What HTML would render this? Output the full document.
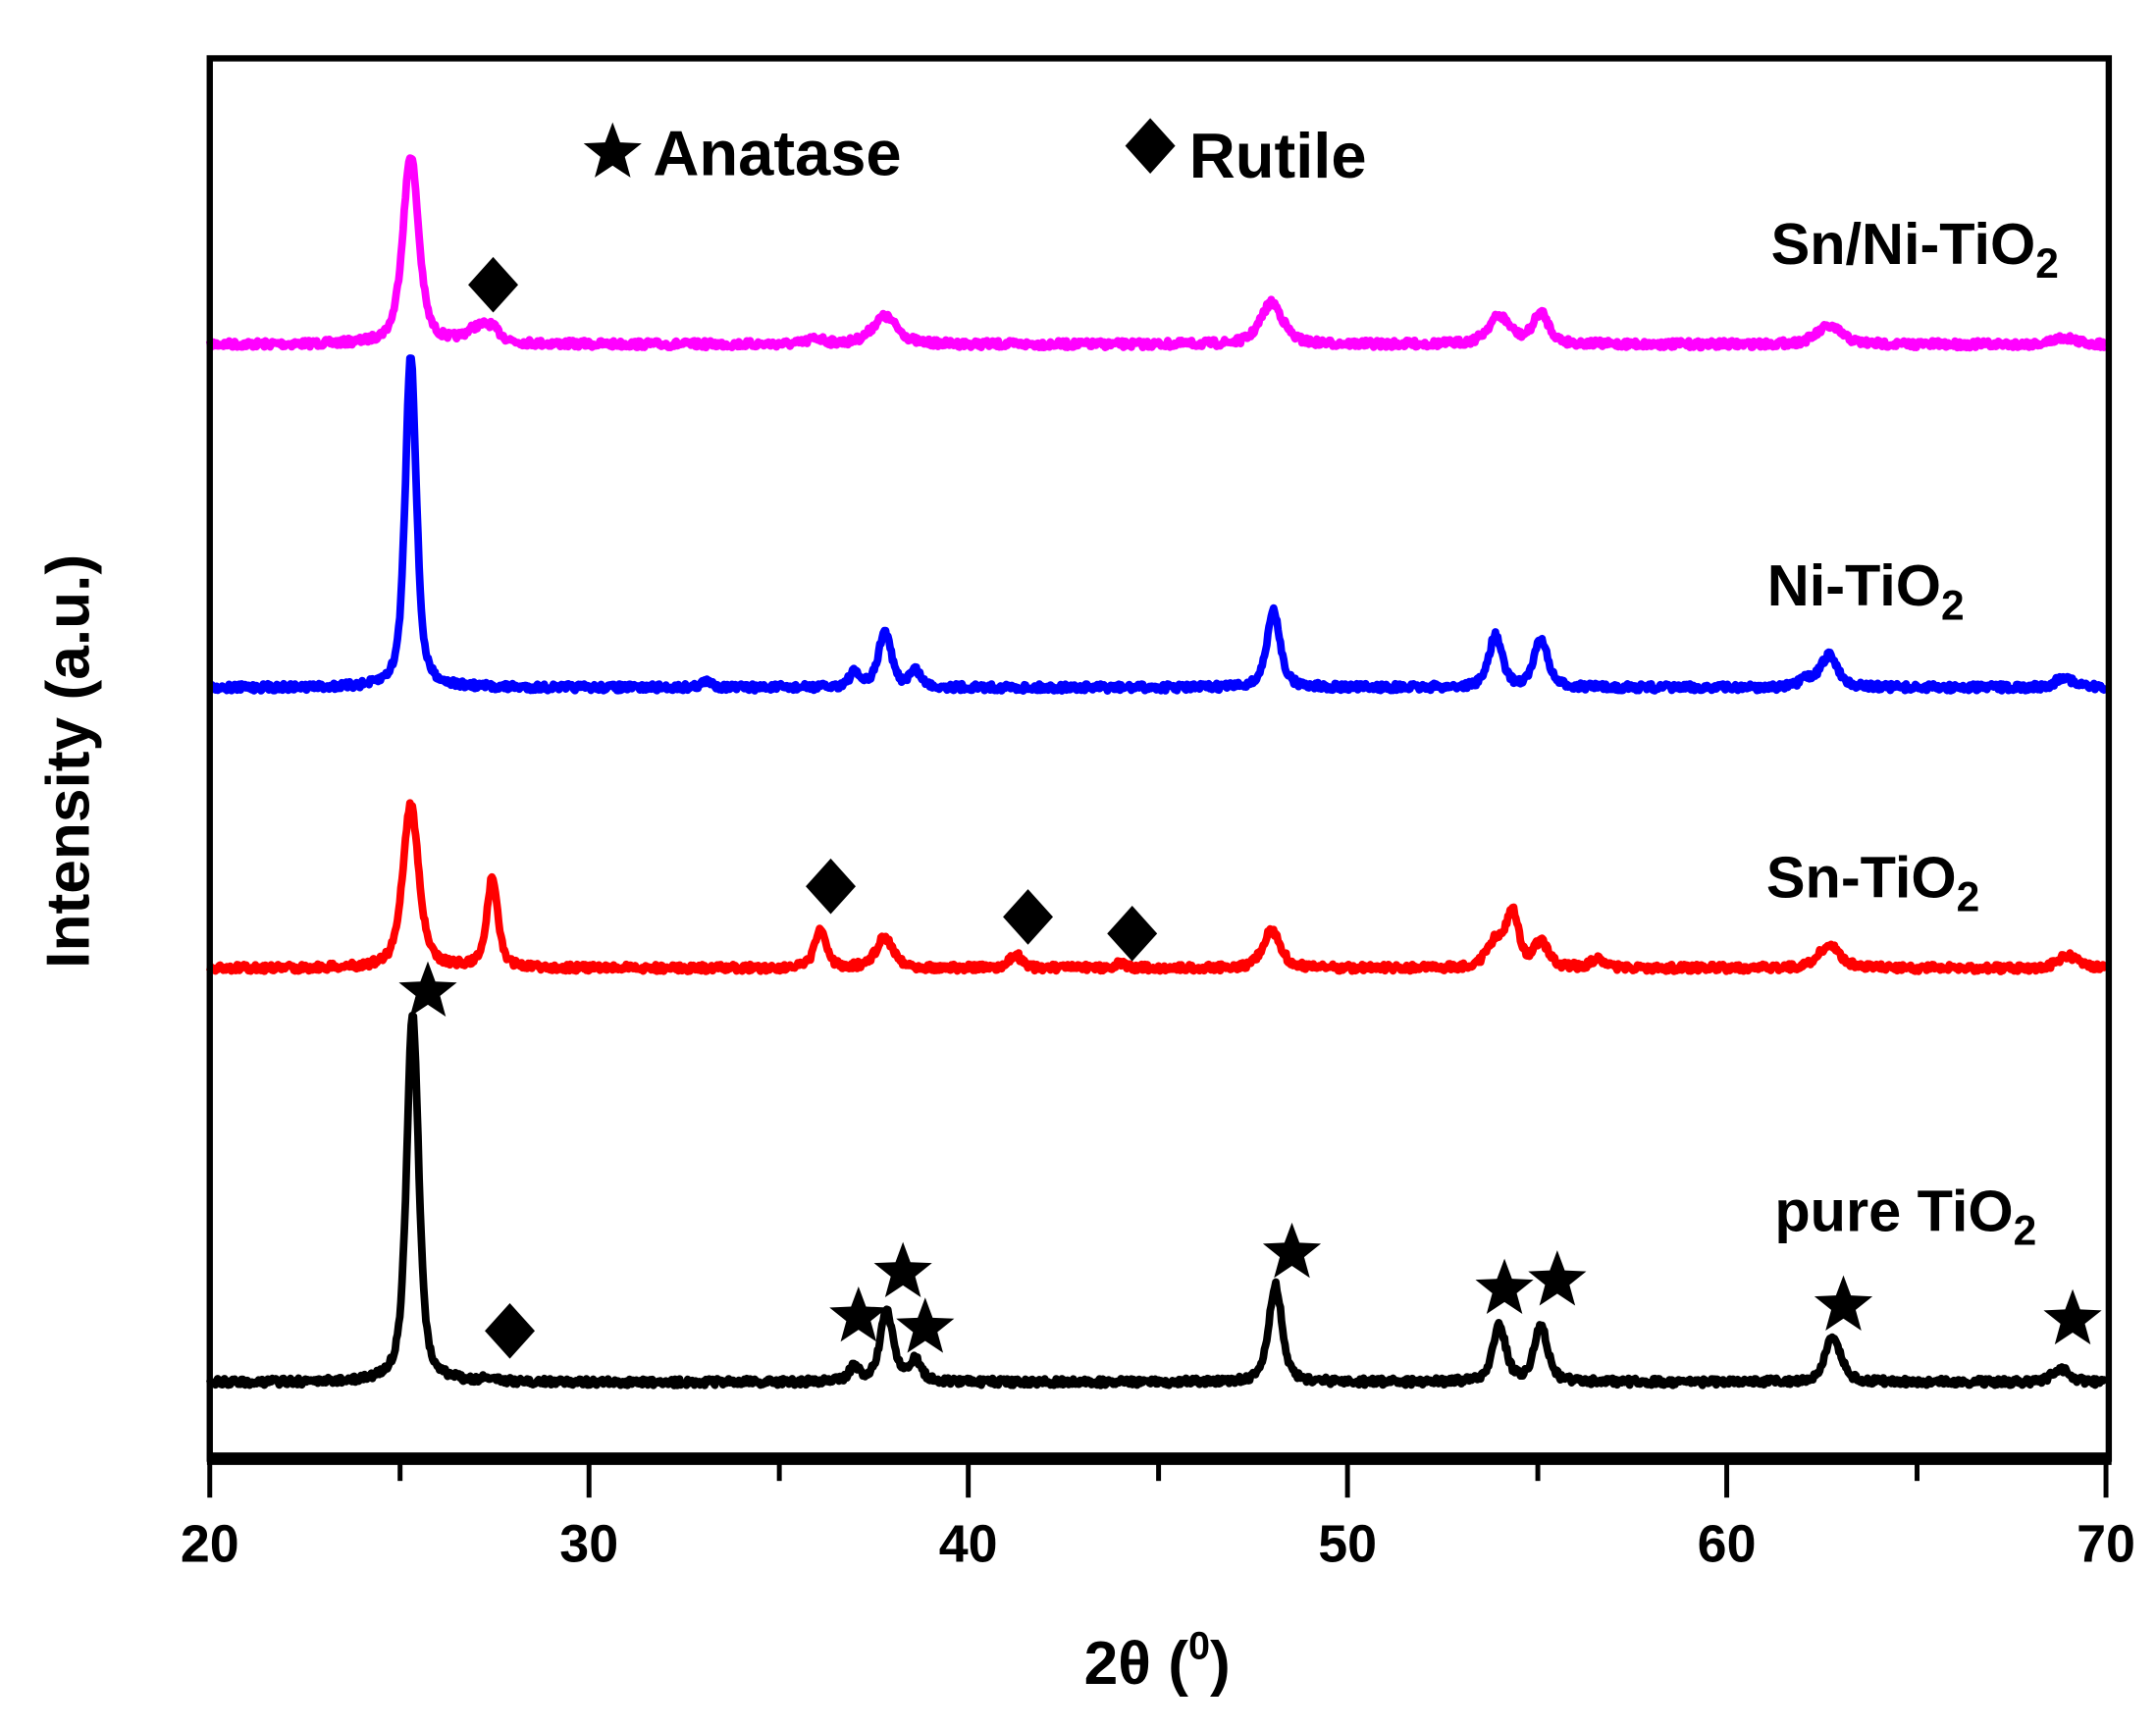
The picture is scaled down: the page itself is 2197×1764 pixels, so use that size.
<!DOCTYPE html>
<html><head><meta charset="utf-8"><style>
html,body{margin:0;padding:0;background:#fff;}
svg{display:block;}
text{font-family:"Liberation Sans",Arial,sans-serif;font-weight:bold;fill:#000;}
</style></head><body>
<svg id="s" width="2197" height="1764" viewBox="0 0 1552 1246" preserveAspectRatio="none" xmlns="http://www.w3.org/2000/svg">
<rect x="0" y="0" width="1552" height="1246" fill="#fff"/>
<g id="curves"></g>
<rect x="151" y="42" width="1367" height="1008" fill="none" stroke="#000" stroke-width="4.5"/>
<line x1="149" y1="1050" x2="1520" y2="1050" stroke="#000" stroke-width="9"/>
<g stroke="#000" stroke-width="3.5">
<line x1="151" y1="1050" x2="151" y2="1078"/><line x1="424" y1="1050" x2="424" y2="1078"/>
<line x1="697" y1="1050" x2="697" y2="1078"/><line x1="970" y1="1050" x2="970" y2="1078"/>
<line x1="1243" y1="1050" x2="1243" y2="1078"/><line x1="1516" y1="1050" x2="1516" y2="1078"/>
<line x1="288" y1="1050" x2="288" y2="1066"/><line x1="561" y1="1050" x2="561" y2="1066"/>
<line x1="834" y1="1050" x2="834" y2="1066"/><line x1="1107" y1="1050" x2="1107" y2="1066"/>
<line x1="1380" y1="1050" x2="1380" y2="1066"/>
</g>
<g font-size="38" text-anchor="middle">
<text x="151" y="1124">20</text><text x="424" y="1124">30</text><text x="697" y="1124">40</text>
<text x="970" y="1124">50</text><text x="1243" y="1124">60</text><text x="1516" y="1124">70</text>
</g>
<text x="833" y="1212" font-size="44" text-anchor="middle">2θ (<tspan font-size="28" dy="-18">0</tspan><tspan dy="18">)</tspan></text>
<text transform="translate(64,548) rotate(-90)" font-size="44" text-anchor="middle">Intensity (a.u.)</text>
<text x="470" y="126" font-size="46">Anatase</text>
<text x="856" y="128" font-size="46">Rutile</text>
<g font-size="42" text-anchor="end">
<text x="1482" y="190">Sn/Ni-TiO<tspan font-size="30" dy="10">2</tspan></text>
<text x="1414" y="436">Ni-TiO<tspan font-size="30" dy="10">2</tspan></text>
<text x="1425" y="646">Sn-TiO<tspan font-size="30" dy="10">2</tspan></text>
<text x="1466" y="886">pure TiO<tspan font-size="30" dy="10">2</tspan></text>
</g>
<g id="marks"></g>
</svg>
<script>
var X=function(d){return 151+(d-20)*27.3;};
var seed=7;function rnd(){seed=(seed*16807)%2147483647;return seed/2147483647;}
var series=[
{c:"#ff00ff",b:248,p:[[25.3,136,.5],[27.0,8,.7],[27.4,10,.6],[36,4,.5],[37.8,20,.8],[48.0,30,.7],[54.0,20,.7],[55.1,22,.5],[62.7,13,.8],[68.9,5,.7]]},
{c:"#0000ff",b:495,p:[[25.3,240,.35],[33.1,4,.4],[37.0,10,.35],[37.8,40,.4],[38.6,12,.35],[48.05,55,.42],[53.9,37,.42],[55.1,35,.42],[62.1,5,.4],[62.7,23,.55],[68.9,8,.5]]},
{c:"#ff0000",b:697,p:[[25.3,118,.5],[27.45,64,.35],[36.1,28,.35],[37.8,22,.55],[41.25,10,.35],[44.0,3,.4],[48.0,27,.55],[53.9,18,.55],[54.35,38,.4],[55.1,18,.45],[56.6,7,.4],[62.7,17,.65],[69.0,9,.6]]},
{c:"#000000",b:995,p:[[25.35,265,.38],[27.4,3,.4],[37.0,10,.35],[37.85,50,.42],[38.6,16,.35],[48.1,70,.42],[54.0,40,.42],[55.1,40,.42],[62.8,32,.5],[68.8,10,.5]]}
];
var g=document.getElementById("curves"),h="";
series.forEach(function(s){
 var d="";
 for(var t=20;t<=70.001;t+=0.03){
  var y=s.b;
  s.p.forEach(function(p){var w=p[2]/2;var u=(t-p[0])/w;y-=p[1]*(0.6/(1+u*u)+0.4*Math.exp(-u*u*0.7));});
  y+=(rnd()-0.5)*5;
  d+=(d?"L":"M")+X(t).toFixed(1)+" "+y.toFixed(1);
 }
 h+='<path d="'+d+'" fill="none" stroke="'+s.c+'" stroke-width="5.5" stroke-linejoin="round"/>';
});
g.innerHTML=h;
function star(cx,cy,r){var pts=[];for(var i=0;i<10;i++){var a=-Math.PI/2+i*Math.PI/5;var rr=i%2?r*0.42:r;pts.push((cx+rr*Math.cos(a)).toFixed(1)+","+(cy+rr*Math.sin(a)).toFixed(1));}return '<polygon points="'+pts.join(" ")+'" fill="#000"/>';}
function dia(cx,cy,r){return '<polygon points="'+cx+','+(cy-r)+' '+(cx+r*0.9)+','+cy+' '+cx+','+(cy+r)+' '+(cx-r*0.9)+','+cy+'" fill="#000"/>';}
var m="";
[[441,110],[308,714],[618,948],[650,916],[666,956],[930,902],[1083,928],[1121,922],[1327,940],[1492,950]].forEach(function(p){m+=star(p[0],p[1],22);});
[[828,105],[355,205],[367,958],[598,638],[740,660],[815,672]].forEach(function(p){m+=dia(p[0],p[1],20);});
document.getElementById("marks").innerHTML=m;
</script>
</body></html>
